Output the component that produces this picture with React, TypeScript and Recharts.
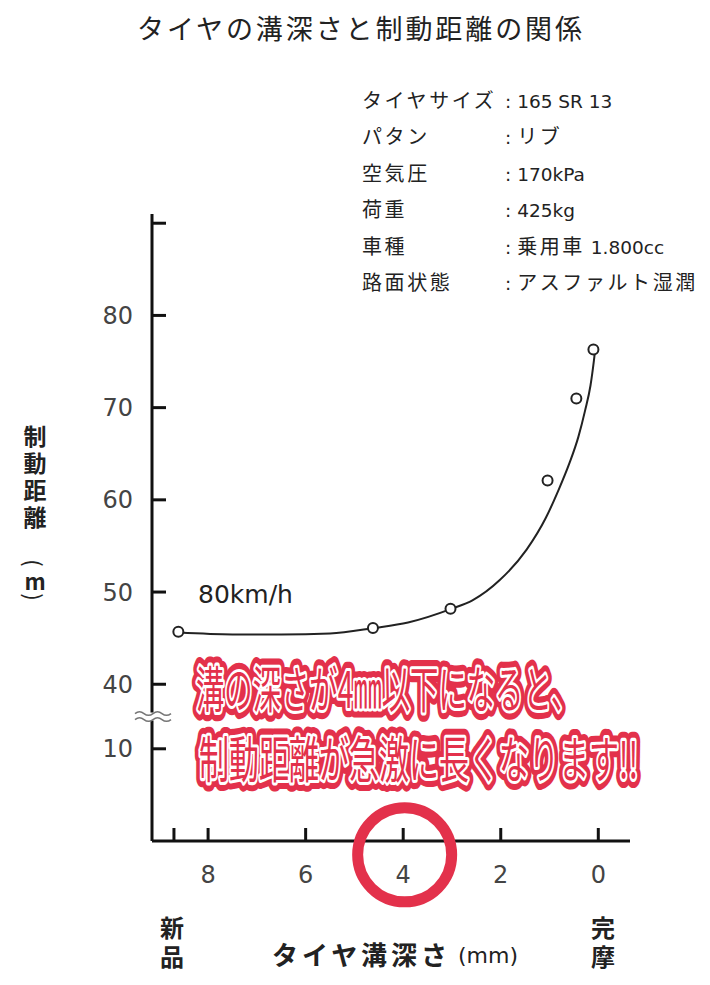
import React from 'react';
import { ComposedChart, Line, Scatter, XAxis, YAxis, ReferenceDot } from 'recharts';

// tread depth (mm) vs stopping distance (m)
const curveDepth = [8.6, 7.5, 6.5, 5.5, 4.6, 3.9, 3.0, 2.58, 2.02, 1.47, 1.08, 0.82, 0.59, 0.41, 0.27, 0.16, 0.09, 0.07];
const curveDist = [45.6, 45.4, 45.4, 45.5, 46.1, 46.7, 48.2, 49.1, 51.3, 54.6, 58.0, 61.0, 64.0, 66.8, 69.7, 72.4, 75.1, 76.0];

const pointDepth = [8.61, 4.62, 3.03, 1.04, 0.45, 0.1];
const pointDist = [45.7, 46.1, 48.2, 62.1, 71.0, 76.3];

const depthTicks = [8.7, 8, 6, 4, 2, 0];
const depthLabels = ['', '8', '6', '4', '2', '0'];
const distTicks = [10, 40, 50, 60, 70, 80, 90];
const distLabels = ['10', '40', '50', '60', '70', '80', ''];

const specNames = ['タイヤサイズ', 'パタン', '空気圧', '荷重', '車種', '路面状態'];
const specValues = ['165 SR 13', 'リブ', '170kPa', '425kg', '乗用車 1.800cc', 'アスファルト湿潤'];

const TITLE = 'タイヤの溝深さと制動距離の関係';
const Y_TITLE = '制動距離';
const X_TITLE = 'タイヤ溝深さ';
const NEW_END = '新品';
const WORN_END = '完摩';
const SPEED = '80km/h';
const NOTE1 = '溝の深さが4㎜以下になると、';
const NOTE2 = '制動距離が急激に長くなります!!';

// broken axis: 10..40 is squeezed out
const toDisp = (v: number) => (v >= 40 ? v - 23 : v);

const curveData = curveDepth.map((mm, i) => ({ mm, d: toDisp(curveDist[i]) }));
const pointData = pointDepth.map((mm, i) => ({ mm, d: toDisp(pointDist[i]) }));

const JP = "'Noto Sans CJK JP', sans-serif";
const NUM = "'DejaVu Sans', 'Noto Sans CJK JP', sans-serif";
const RED = '#e3314b';
const INK = '#222';

const YTick = (props: any) => {
  const { x, y, index } = props;
  return (
    <g>
      <line x1={x} x2={x + 14} y1={y} y2={y} stroke="#111" strokeWidth={3} />
      <text x={x - 19} y={y + 8.5} textAnchor="end" fontFamily={NUM} fontSize={24} fill="#444">
        {distLabels[index]}
      </text>
    </g>
  );
};

const XTick = (props: any) => {
  const { x, y, index } = props;
  return (
    <g>
      <line x1={x} x2={x} y1={y} y2={y - 13} stroke="#111" strokeWidth={3} />
      <text x={x} y={y + 42} textAnchor="middle" fontFamily={NUM} fontSize={24} fill="#444">
        {depthLabels[index]}
      </text>
    </g>
  );
};

const BreakMark = (props: any) => {
  const { cx, cy } = props;
  const wave = (yy: number) =>
    `M${cx - 17},${yy} q4.5,-3.5 9,0 t9,0 t9,0 t9,0`;
  return (
    <g>
      <rect x={cx - 4} y={cy - 4} width={8} height={8} fill="#fff" />
      <path d={wave(cy - 3)} fill="none" stroke="#777" strokeWidth={1.6} />
      <path d={wave(cy + 3)} fill="none" stroke="#777" strokeWidth={1.6} />
    </g>
  );
};

// squeezed pop-style caption: red glyphs, white rim, thick red halo
const RedText = ({ x, y, sx, children }: any) => {
  const common = { x: 0, y: 0, fontFamily: JP, fontSize: 50 } as any;
  return (
    <g transform={`translate(${x},${y}) scale(${sx},1)`}>
      <text {...common} fill={RED} stroke={RED} strokeWidth={15} strokeLinejoin="round" vectorEffect="non-scaling-stroke">{children}</text>
      <text {...common} fill={RED} stroke="#fff" strokeWidth={5} strokeLinejoin="round" vectorEffect="non-scaling-stroke">{children}</text>
      <text {...common} fill={RED}>{children}</text>
    </g>
  );
};

const VText = ({ x, y, size, gap, children }: any) => (
  <text
    x={x}
    y={y}
    fontFamily={JP}
    fontSize={size}
    fontWeight="bold"
    letterSpacing={gap}
    fill={INK}
    style={{ writingMode: 'vertical-rl' }}
  >
    {children}
  </text>
);

const isCjk = (ch: string) => ch.charCodeAt(0) > 0x2e80;

const splitRuns = (s: string) => {
  const runs: { cjk: boolean; t: string }[] = [];
  for (const ch of s) {
    const c = isCjk(ch);
    if (runs.length && runs[runs.length - 1].cjk === c) runs[runs.length - 1].t += ch;
    else runs.push({ cjk: c, t: ch });
  }
  return runs;
};

const App: React.FC = () => {
  return (
    <div style={{ position: 'absolute', left: 0, top: 0, width: 710, height: 985, background: '#fff' }}>
      <ComposedChart
        width={710}
        height={985}
        margin={{ top: 214, right: 80, bottom: 143, left: 151 }}
      >
        <XAxis
          type="number"
          dataKey="mm"
          domain={[-0.65, 9.15]}
          allowDataOverflow
          reversed
          ticks={depthTicks}
          height={1}
          tickSize={0}
          tickMargin={0}
          tickLine={false}
          axisLine={{ stroke: '#111', strokeWidth: 3 }}
          tick={<XTick />}
          interval={0}
        />
        <YAxis
          type="number"
          dataKey="d"
          domain={[0, 68]}
          allowDataOverflow
          ticks={distTicks.map(toDisp)}
          width={1}
          tickSize={0}
          tickMargin={0}
          tickLine={false}
          axisLine={{ stroke: '#111', strokeWidth: 3 }}
          tick={<YTick />}
          interval={0}
        />
        <Line
          data={curveData}
          dataKey="d"
          type="monotone"
          stroke={INK}
          strokeWidth={2}
          dot={false}
          activeDot={false}
          isAnimationActive={false}
        />
        <Scatter
          data={pointData}
          dataKey="d"
          isAnimationActive={false}
          shape={(p: any) => <circle cx={p.cx} cy={p.cy} r={5} fill="#fff" stroke={INK} strokeWidth={2} />}
        />
        <ReferenceDot x={9.15} y={13.5} ifOverflow="visible" shape={<BreakMark />} />
        <ReferenceDot
          x={3.97}
          y={-1.5}
          r={47}
          ifOverflow="visible"
          fill="none"
          stroke={RED}
          strokeWidth={11}
        />
      </ComposedChart>

      <svg
        width={710}
        height={985}
        style={{ position: 'absolute', left: 0, top: 0, pointerEvents: 'none' }}
      >
        <text x={137} y={39} fontFamily={JP} fontSize={27} fill={INK} textLength={445} lengthAdjust="spacing">
          {TITLE}
        </text>

        {specNames.map((name, i) => (
          <g key={name}>
            <text x={362} y={107.5 + i * 36.5} fontFamily={JP} fontSize={20} letterSpacing={2.6} fill={INK}>
              {name}
            </text>
            <text x={505} y={107.5 + i * 36.5} fill={INK}>
              <tspan fontFamily={NUM} fontSize={18.5}>{': '}</tspan>
              {splitRuns(specValues[i]).map((r, j) =>
                r.cjk ? (
                  <tspan key={j} fontFamily={JP} fontSize={20} letterSpacing={2.6}>{r.t}</tspan>
                ) : (
                  <tspan key={j} fontFamily={NUM} fontSize={18.5}>{r.t}</tspan>
                )
              )}
            </text>
          </g>
        ))}

        <VText x={35} y={425} size={23} gap={4}>{Y_TITLE}</VText>
        <text x={35} y={563} textAnchor="middle" dominantBaseline="central" fontFamily={JP} fontSize={22} fill={INK} transform="rotate(90 35 563)">(</text>
        <text x={35} y={580} textAnchor="middle" dominantBaseline="central" fontFamily={JP} fontSize={22} fontWeight="bold" fill={INK}>m</text>
        <text x={35} y={597} textAnchor="middle" dominantBaseline="central" fontFamily={JP} fontSize={22} fill={INK} transform="rotate(90 35 597)">)</text>

        <text x={198} y={603} fontFamily={NUM} fontSize={25} fill={INK}>{SPEED}</text>

        <VText x={172} y={916} size={24} gap={5}>{NEW_END}</VText>
        <VText x={603} y={916} size={24} gap={5}>{WORN_END}</VText>

        <text x={272} y={965} fontFamily={JP} fontSize={26} fontWeight="bold" fill={INK} textLength={175} lengthAdjust="spacing">
          {X_TITLE}
        </text>
        <text x={458} y={963} fontFamily={NUM} fontSize={22} fill={INK}>(mm)</text>

        <RedText x={196} y={708} sx={0.567}>{NOTE1}</RedText>
        <RedText x={199} y={778} sx={0.6}>{NOTE2}</RedText>
      </svg>
    </div>
  );
};

export default App;
